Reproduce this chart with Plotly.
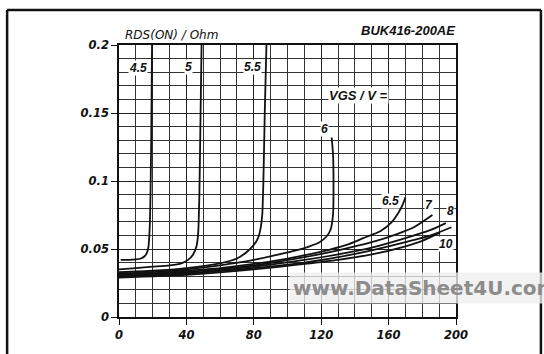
import plotly.graph_objects as go

# Drain current ID (A) and on-state resistance RDS(ON) (Ohm) per gate voltage VGS (V)
id_45 = [1, 6, 10, 13, 15, 16.5, 17.5, 18.2, 18.7, 19.2, 19.6]
rds_45 = [0.042, 0.042, 0.0423, 0.043, 0.0445, 0.047, 0.052, 0.065, 0.09, 0.14, 0.2]

id_5 = [0, 10, 20, 30, 37, 41, 44, 46, 47, 47.7, 48.3, 49]
rds_5 = [0.035, 0.036, 0.037, 0.038, 0.0395, 0.042, 0.046, 0.052, 0.062, 0.09, 0.14, 0.2]

id_55 = [0, 20, 40, 60, 70, 76, 80, 82.5, 84, 85, 85.7, 86.5, 87.5]
rds_55 = [0.033, 0.034, 0.036, 0.0395, 0.043, 0.048, 0.053, 0.058, 0.065, 0.075, 0.1, 0.15, 0.2]

id_6 = [0, 20, 40, 60, 80, 95, 105, 113, 119, 123, 125.5, 127, 127.3, 127, 126.2]
rds_6 = [0.032, 0.033, 0.035, 0.038, 0.042, 0.046, 0.049, 0.052, 0.055, 0.059, 0.064, 0.075, 0.1, 0.12, 0.132]

id_65 = [0, 20, 40, 60, 80, 100, 120, 135, 145, 155, 162, 166, 168.5, 170]
rds_65 = [0.031, 0.032, 0.034, 0.036, 0.039, 0.043, 0.048, 0.053, 0.058, 0.063, 0.07, 0.077, 0.083, 0.088]

id_7 = [0, 40, 80, 110, 130, 150, 165, 175, 186]
rds_7 = [0.031, 0.033, 0.038, 0.044, 0.049, 0.055, 0.061, 0.066, 0.075]

id_8 = [0, 40, 80, 110, 130, 150, 170, 185, 194]
rds_8 = [0.030, 0.032, 0.037, 0.042, 0.046, 0.051, 0.058, 0.064, 0.069]

id_9 = [0, 40, 80, 110, 130, 150, 170, 185, 197.3]
rds_9 = [0.030, 0.032, 0.036, 0.040, 0.044, 0.049, 0.055, 0.060, 0.066]

id_10 = [0, 40, 80, 110, 130, 150, 170, 180, 190.5]
rds_10 = [0.029, 0.031, 0.035, 0.039, 0.042, 0.046, 0.052, 0.056, 0.062]

vgs_labels = ["4.5", "5", "5.5", "6", "6.5", "7", "8", "", "10"]
curves = [(id_45, rds_45), (id_5, rds_5), (id_55, rds_55), (id_6, rds_6),
          (id_65, rds_65), (id_7, rds_7), (id_8, rds_8), (id_9, rds_9), (id_10, rds_10)]

# Where each VGS label sits (ID, RDS)
label_x = [11.3, 41.5, 79, 122, 161, 184, 197, None, 194]
label_y = [0.183, 0.184, 0.184, 0.138, 0.085, 0.082, 0.078, None, 0.054]

x_ticks = [0, 40, 80, 120, 160, 200]
y_ticks = [0, 0.05, 0.1, 0.15, 0.2]
y_tick_text = ["0", "0.05", "0.1", "0.15", "0.2"]

FONT = "Liberation Sans, Arial, sans-serif"
WIDE = "DejaVu Sans, sans-serif"

fig = go.Figure()
for (xs, ys) in curves:
    fig.add_trace(go.Scatter(x=xs, y=ys, mode="lines",
                             line=dict(color="#111", width=1.8, shape="spline", smoothing=0.6),
                             showlegend=False, hoverinfo="skip"))

for txt, lx, ly in zip(vgs_labels, label_x, label_y):
    if not txt:
        continue
    fig.add_annotation(x=lx, y=ly, text=txt, showarrow=False, xanchor="center", yanchor="middle",
                       bgcolor="white", borderpad=0,
                       font=dict(family=FONT, size=12, color="#111", style="italic", weight="bold"))

fig.add_annotation(x=124, y=0.163, text="VGS / V =", showarrow=False, xanchor="left", yanchor="middle",
                   bgcolor="white", borderpad=0,
                   font=dict(family=FONT, size=13, color="#111", style="italic", weight="bold"))

fig.add_annotation(xref="paper", yref="paper", x=0.012, y=1.037, text="RDS(ON) / Ohm",
                   showarrow=False, xanchor="left", yanchor="middle",
                   font=dict(family=WIDE, size=12, color="#111", style="italic"))
fig.add_annotation(xref="paper", yref="paper", x=1.003, y=1.055, text="BUK416-200AE",
                   showarrow=False, xanchor="right", yanchor="middle",
                   font=dict(family=FONT, size=13, color="#111", style="italic", weight="bold"))
fig.add_annotation(xref="paper", yref="paper", x=0.5, y=-0.14, text="ID / A",
                   showarrow=False, xanchor="center", yanchor="top",
                   font=dict(family=WIDE, size=12, color="#111", style="italic"))

# Outer frame around the whole figure
frame = dict(color="#111", width=2.5)
fig.add_shape(type="line", xref="paper", yref="paper", x0=-0.332, x1=-0.332, y0=1.129, y1=-0.2, line=frame)
fig.add_shape(type="line", xref="paper", yref="paper", x0=-0.332, x1=1.252, y0=1.129, y1=1.129, line=frame)
fig.add_shape(type="line", xref="paper", yref="paper", x0=1.252, x1=1.252, y0=1.129, y1=-0.2, line=frame)

# Watermark band
fig.add_annotation(xref="paper", yref="paper", x=0.505, y=0.107, text="www.DataSheet4U.com",
                   showarrow=False, xanchor="left", yanchor="middle",
                   bgcolor="rgba(238,238,238,0.78)", borderpad=3,
                   font=dict(family=WIDE, size=20, color="#8c8c8c", weight="bold"))

axis_common = dict(showline=True, linecolor="#111", linewidth=1.5, mirror=True,
                   showgrid=True, gridcolor="#222", gridwidth=1.3,
                   ticks="outside", ticklen=6, tickcolor="#111", tickwidth=1.3,
                   zeroline=False,
                   tickfont=dict(family=WIDE, size=11.5, color="#111", style="italic", weight="bold"))

fig.update_xaxes(range=[0, 200], tickvals=x_ticks,
                 minor=dict(dtick=10, tick0=0, showgrid=True, gridcolor="#333", gridwidth=1.1),
                 **axis_common)
fig.update_yaxes(range=[0, 0.2], tickvals=y_ticks, ticktext=y_tick_text,
                 minor=dict(dtick=0.01, tick0=0, showgrid=True, gridcolor="#333", gridwidth=1.1),
                 **axis_common)

fig.update_layout(width=544, height=354, margin=dict(l=119, r=88, t=45, b=37),
                  paper_bgcolor="white", plot_bgcolor="white")

fig.write_html("out.html")
